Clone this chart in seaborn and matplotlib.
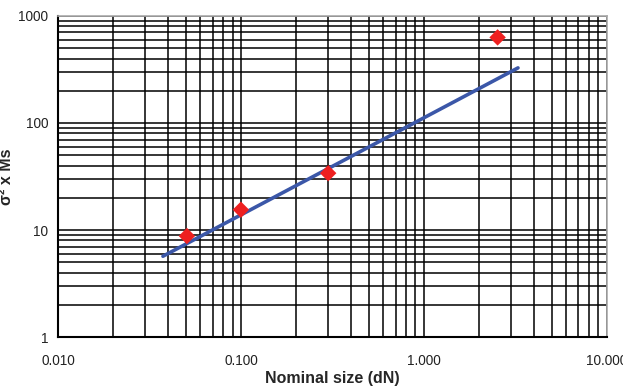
import numpy as np
import pandas as pd
import seaborn as sns
import matplotlib.pyplot as plt
from matplotlib.ticker import LogLocator, FixedLocator, NullFormatter

# measured points
nominal_size = [0.0507, 0.100, 0.300, 2.53]
sigma_ms = [8.8, 15.5, 34.0, 630.0]

# fitted trend line end points
fit_x = [0.0375, 3.27]
fit_y = [5.7, 327.0]

x_ticks = [0.01, 0.1, 1, 10]
x_labels = ['0.010', '0.100', '1.000', '10.000']
y_ticks = [1, 10, 100, 1000]
y_labels = ['1', '10', '100', '1000']

sns.set_style('white')
plt.rcParams['font.family'] = ['Liberation Sans', 'DejaVu Sans']

fig = plt.figure(figsize=(6.23, 3.88), dpi=100)
ax = fig.add_axes([0.093, 0.131, 0.881, 0.828])

pts = pd.DataFrame({'x': nominal_size, 'y': sigma_ms})
fit = pd.DataFrame({'x': fit_x, 'y': fit_y})

sns.lineplot(data=fit, x='x', y='y', ax=ax, color='#3b57a8', lw=2.6, zorder=3)
sns.scatterplot(data=pts, x='x', y='y', ax=ax, marker='D', s=70,
                color='#ee2020', edgecolor='none', zorder=4)

ax.set_xscale('log')
ax.set_yscale('log')
ax.set_xlim(0.01, 10)
ax.set_ylim(1, 1000)

ax.xaxis.set_major_locator(FixedLocator(x_ticks))
ax.set_xticklabels(x_labels)
ax.yaxis.set_major_locator(FixedLocator(y_ticks))
ax.set_yticklabels(y_labels)
ax.xaxis.set_minor_locator(LogLocator(base=10, subs=np.arange(2, 10)))
ax.yaxis.set_minor_locator(LogLocator(base=10, subs=np.arange(2, 10)))
ax.xaxis.set_minor_formatter(NullFormatter())
ax.yaxis.set_minor_formatter(NullFormatter())

ax.grid(which='both', color='black', lw=1.1)
ax.set_axisbelow(True)
ax.tick_params(which='major', direction='out', length=4, width=1.2,
               labelsize=9.8, color='black', labelcolor='#222222')
ax.tick_params(which='minor', length=0)
ax.tick_params(axis='x', pad=8)
ax.tick_params(axis='y', pad=3)

for side in ['left', 'bottom']:
    ax.spines[side].set_color('black')
    ax.spines[side].set_linewidth(1.5)
for side in ['top', 'right']:
    ax.spines[side].set_color('#aaaaaa')
    ax.spines[side].set_linewidth(1.2)

ax.set_xlabel('Nominal size (dN)', fontsize=11.5, fontweight='bold', labelpad=2)
ax.set_ylabel('σ² x Ms', fontsize=11.5, fontweight='bold')
ax.yaxis.set_label_coords(-0.08, 0.5)

fig.savefig('out.png', dpi=100)
